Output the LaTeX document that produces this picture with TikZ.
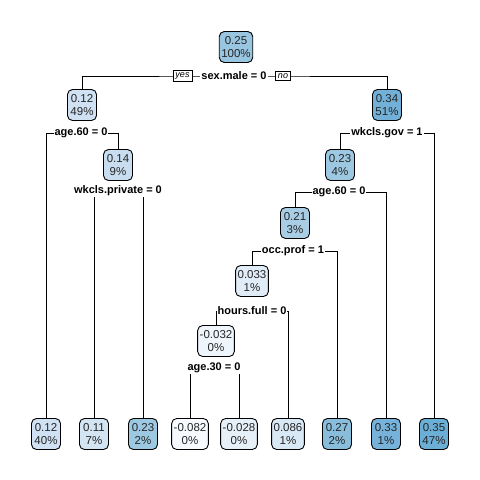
\documentclass[tikz,border=0pt]{standalone}
\usepackage{fontspec}
\setmainfont{Liberation Sans}
\usetikzlibrary{backgrounds}
\definecolor{cA}{HTML}{F7FBFF}
\definecolor{cB}{HTML}{EEF5FB}
\definecolor{cC}{HTML}{E6F0F9}
\definecolor{cD}{HTML}{E0ECF8}
\definecolor{cE}{HTML}{D9E8F5}
\definecolor{cF}{HTML}{D3E4F3}
\definecolor{cG}{HTML}{CFE1F2}
\definecolor{cH}{HTML}{C8DDF0}
\definecolor{cI}{HTML}{A9CDE5}
\definecolor{cJ}{HTML}{9DC8E2}
\definecolor{cK}{HTML}{98C5E0}
\definecolor{cL}{HTML}{88BEDC}
\definecolor{cM}{HTML}{76B2D9}
\definecolor{cN}{HTML}{72B0D8}
\definecolor{cO}{HTML}{6BAED6}
\begin{document}
\begin{tikzpicture}[x=1pt,y=-1pt,
  nd/.style={draw=black, line width=0.9pt, rounded corners=5pt, align=center,
    font=\fontsize{11.5}{13.5}\selectfont, minimum width=29pt, minimum height=31pt,
    inner sep=2pt, text=black!85},
  lb/.style={fill=white, font=\bfseries\fontsize{11}{12}\selectfont, inner sep=1pt},
  yn/.style={draw, fill=white, font=\itshape\fontsize{9}{10}\selectfont,
    inner xsep=2.5pt, inner ysep=2pt, line width=0.7pt},
  ln/.style={line width=1pt}]
\useasboundingbox (0,0) rectangle (480,480);
% inner nodes
\node[nd, fill=cK] (n1) at (236,47) {0.25\\100\%};
\node[nd, fill=cG] (n2) at (82,105) {0.12\\49\%};
\node[nd, fill=cN] (n3) at (387,105) {0.34\\51\%};
\node[nd, fill=cH] (n4) at (118,165) {0.14\\9\%};
\node[nd, fill=cJ] (n5) at (340,165) {0.23\\4\%};
\node[nd, fill=cI] (n6) at (295,223) {0.21\\3\%};
\node[nd, fill=cD] (n7) at (252,281) {0.033\\1\%};
\node[nd, fill=cB] (n8) at (216,341) {-0.032\\0\%};
% leaves
\node[nd, fill=cG] (L1) at (46,434) {0.12\\40\%};
\node[nd, fill=cF] (L2) at (94,434) {0.11\\7\%};
\node[nd, fill=cJ] (L3) at (143,434) {0.23\\2\%};
\node[nd, fill=cA] (L4) at (190,434) {-0.082\\0\%};
\node[nd, fill=cC] (L5) at (239,434) {-0.028\\0\%};
\node[nd, fill=cE] (L6) at (288,434) {0.086\\1\%};
\node[nd, fill=cL] (L7) at (337,434) {0.27\\2\%};
\node[nd, fill=cM] (L8) at (386,434) {0.33\\1\%};
\node[nd, fill=cO] (L9) at (434,434) {0.35\\47\%};
% split labels
\node[lb] (s1) at (234,76) {sex.male = 0};
\node[yn] (yes) at (182.5,76) {yes};
\node[yn] (no) at (283,76) {no};
\node[lb] (s2) at (81,133) {age.60 = 0};
\node[lb] (s3) at (387,133) {wkcls.gov = 1};
\node[lb] (s4) at (118,191) {wkcls.private = 0};
\node[lb] (s5) at (339,192) {age.60 = 0};
\node[lb] (s6) at (293,251) {occ.prof = 1};
\node[lb] (s7) at (252,311) {hours.full = 0};
\node[lb] (s8) at (214,368) {age.30 = 0};
\begin{scope}[on background layer]
\draw[ln] (n2.north) |- (s1.center) -| (n3.north);
\draw[ln] (L1.north) |- (s2.center) -| (n4.north);
\draw[ln] (L2.north) |- (s4.center) -| (L3.north);
\draw[ln] (n5.north) |- (s3.center) -| (L9.north);
\draw[ln] (n6.north) |- (s5.center) -| (L8.north);
\draw[ln] (n7.north) |- (s6.center) -| (L7.north);
\draw[ln] (n8.north) |- (s7.center) -| (L6.north);
\draw[ln] (L4.north) |- (s8.center) -| (L5.north);
\end{scope}
\end{tikzpicture}
\end{document}
